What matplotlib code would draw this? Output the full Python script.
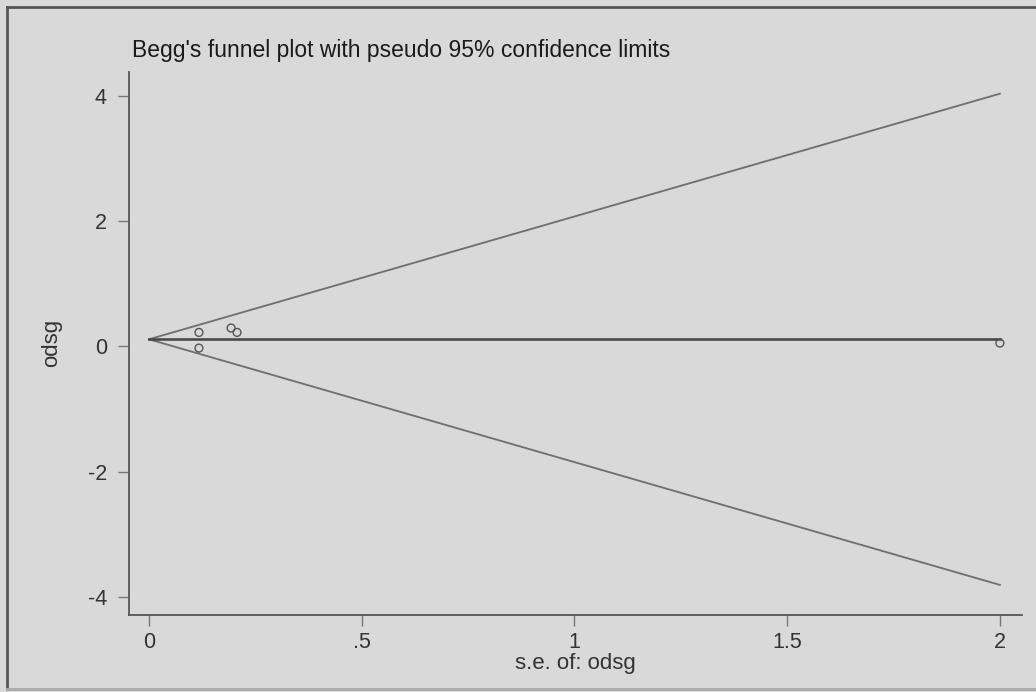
import matplotlib
matplotlib.use("Agg")
import matplotlib.pyplot as plt
import numpy as np

# study estimates (log odds) and their standard errors
se = [0.1175, 0.1175, 0.193, 0.207, 2.0]
odsg = [0.22, -0.03, 0.29, 0.22, 0.05]
pooled = 0.11

xticks = [0, 0.5, 1, 1.5, 2]
xticklabels = ["0", ".5", "1", "1.5", "2"]
yticks = [-4, -2, 0, 2, 4]

bg = "#d9d9d9"
plt.rcParams["font.family"] = ["Liberation Sans", "DejaVu Sans"]
plt.rcParams["axes.unicode_minus"] = False

fig = plt.figure(figsize=(10.36, 6.92), dpi=100, facecolor=bg)
ax = fig.add_axes([0.1245, 0.1113, 0.862, 0.785], facecolor=bg)

# pseudo 95% limits around the pooled estimate
s = np.array([0, max(se)])
ax.plot(s, pooled + 1.96 * s, color="#6e6e6e", lw=1.3)
ax.plot(s, pooled - 1.96 * s, color="#6e6e6e", lw=1.3)
ax.plot(s, [pooled, pooled], color="#4a4a4a", lw=1.9)
ax.scatter(se, odsg, s=32, facecolors="none", edgecolors="#555555", linewidths=1.0, zorder=3)

ax.set_xlim(-0.047, 2.052)
ax.set_ylim(-4.29, 4.38)
ax.set_xticks(xticks)
ax.set_xticklabels(xticklabels)
ax.set_yticks(yticks)
for side in ["top", "right"]:
    ax.spines[side].set_visible(False)
for side in ["left", "bottom"]:
    ax.spines[side].set_color("#555555")
    ax.spines[side].set_linewidth(1.3)
ax.tick_params(direction="out", length=8, width=1, color="#777777",
               labelsize=15.5, labelcolor="#333333")
ax.tick_params(axis="y", pad=8)
ax.tick_params(axis="x", pad=4)

ax.set_xlabel("s.e. of: odsg", fontsize=16, color="#333333", labelpad=0)
ax.set_ylabel("odsg", fontsize=16, color="#333333", labelpad=18)
fig.text(0.127, 0.918, "Begg's funnel plot with pseudo 95% confidence limits",
         fontsize=16.5, color="#1a1a1a", va="baseline")

# outer frame
fig.add_artist(plt.Line2D([0.0068, 0.0068], [0.004, 0.990], color="#555555", lw=2))
fig.add_artist(plt.Line2D([0.0068, 1.0], [0.990, 0.990], color="#555555", lw=2))
fig.add_artist(plt.Line2D([0.0068, 1.0], [0.004, 0.004], color="#aaaaaa", lw=2))

fig.savefig("out.png", dpi=100, facecolor=bg)
